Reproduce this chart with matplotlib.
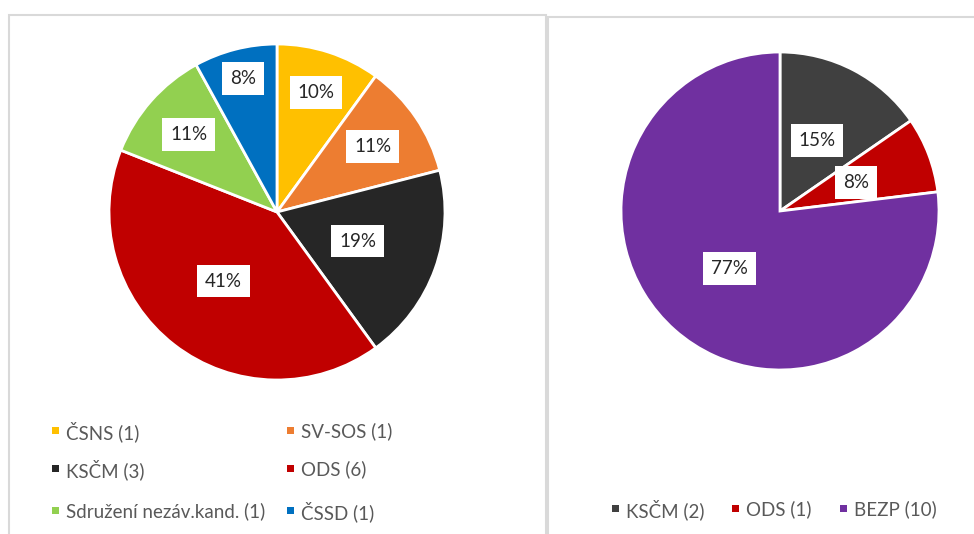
import matplotlib
matplotlib.use('Agg')
import matplotlib.pyplot as plt
from matplotlib.patches import Rectangle

plt.rcParams['font.family'] = ['Lato', 'DejaVu Sans']

# Left chart: share of votes (%) per party, seats in brackets
left_labels = ['ČSNS (1)', 'SV-SOS (1)', 'KSČM (3)', 'ODS (6)', 'Sdružení nezáv.kand. (1)', 'ČSSD (1)']
left_values = [10, 11, 19, 41, 11, 8]
left_colors = ['#FFC000', '#ED7D31', '#262626', '#C00000', '#92D050', '#0070C0']

# Right chart: seats
right_labels = ['KSČM (2)', 'ODS (1)', 'BEZP (10)']
right_values = [2, 1, 10]
right_colors = ['#404040', '#C00000', '#7030A0']

W, H = 974, 534
fig = plt.figure(figsize=(W / 100, H / 100), dpi=100)
fig.patch.set_facecolor('white')


def px_axes(cx, cy, r):
    return fig.add_axes([(cx - r) / W, (H - cy - r) / H, 2 * r / W, 2 * r / H])


# panel borders
fig.patches.append(Rectangle((9 / W, -0.01), 537 / W, (H - 15) / H + 0.01, transform=fig.transFigure,
                             fill=False, edgecolor='#D9D9D9', linewidth=1.5))
fig.patches.append(Rectangle((548 / W, -0.01), 0.5, (H - 17) / H + 0.01, transform=fig.transFigure,
                             fill=False, edgecolor='#D9D9D9', linewidth=1.5))


def draw_pie(ax, values, colors, dists):
    wedges, texts, autotexts = ax.pie(values, colors=colors, startangle=90, counterclock=False,
                                      autopct='%1.0f%%', pctdistance=1.0,
                                      wedgeprops=dict(edgecolor='white', linewidth=2))
    for t, d in zip(autotexts, dists):
        x, y = t.get_position()
        t.set_position((x * d, y * d))
        t.set_fontsize(13.5)
        t.set_color('#262626')
        t.set_bbox(dict(facecolor='white', edgecolor='none', boxstyle='square,pad=0.42'))
    ax.set_xlim(-1, 1)
    ax.set_ylim(-1, 1)
    ax.set_aspect('equal')
    ax.axis('off')


ax1 = px_axes(277, 212, 168)
draw_pie(ax1, left_values, left_colors, [0.75, 0.69, 0.51, 0.52, 0.70, 0.82])

ax2 = px_axes(780, 211, 159)
draw_pie(ax2, right_values, right_colors, [0.50, 0.51, 0.48])


def legend_item(x, y, color, label):
    # x, y in pixels (from top-left), square marker then grey text
    s = 7
    fig.patches.append(Rectangle(((x - s / 2) / W, (H - y - s / 2) / H), s / W, s / H,
                                 transform=fig.transFigure, facecolor=color, edgecolor='none'))
    fig.text((x + 11) / W, (H - y) / H, label, fontsize=13.5, color='#595959',
             ha='left', va='center_baseline')


left_cols = [55, 290]
left_rows = [430, 468, 510]
for i, (lab, col) in enumerate(zip(left_labels, left_colors)):
    legend_item(left_cols[i % 2], left_rows[i // 2], col, lab)

right_cols = [615, 735, 843]
for lab, col, x in zip(right_labels, right_colors, right_cols):
    legend_item(x, 508, col, lab)

fig.savefig('out.png', dpi=100)
